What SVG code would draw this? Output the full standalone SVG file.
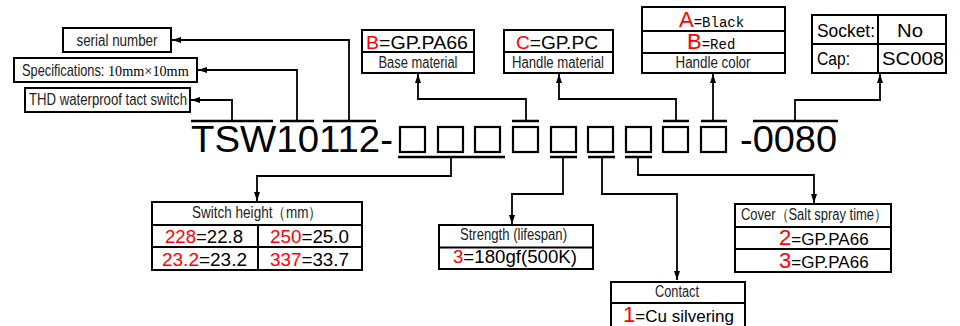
<svg xmlns="http://www.w3.org/2000/svg" width="960" height="326" viewBox="0 0 960 326">
<style>
.box{fill:#fff;stroke:#000;stroke-width:2}
.ln{fill:none;stroke:#000;stroke-width:1.8}
.bar{fill:none;stroke:#000;stroke-width:2.4}
.sq{fill:none;stroke:#000;stroke-width:2.2}
.n{font-family:"Liberation Sans Narrow","Liberation Sans",Arial,sans-serif;font-size:16px;fill:#222}
.a{font-family:"Liberation Sans",Arial,sans-serif;font-size:18px;fill:#000}
.s{font-family:"Liberation Serif","Times New Roman",serif;font-size:15px;fill:#000}
.r{fill:#f00}
.big{font-family:"Liberation Sans",Arial,sans-serif;font-size:22px;fill:#f00}
.main{font-family:"Liberation Sans",Arial,sans-serif;font-size:37.5px;fill:#000}
</style>
<defs>
<marker id="ar" markerUnits="userSpaceOnUse" markerWidth="10" markerHeight="8" refX="9" refY="3" orient="auto">
<path d="M0,0 L9,3 L0,6 z" fill="#000"/>
</marker>
</defs>

<g id="code">
<text class="main" x="191" y="152" textLength="202" lengthAdjust="spacingAndGlyphs">TSW10112-</text>
<rect class="sq" x="400" y="127" width="25" height="25"/>
<rect class="sq" x="438" y="127" width="25" height="25"/>
<rect class="sq" x="475" y="127" width="25" height="25"/>
<rect class="sq" x="513" y="127" width="25" height="25"/>
<rect class="sq" x="551" y="127" width="25" height="25"/>
<rect class="sq" x="588" y="127" width="25" height="25"/>
<rect class="sq" x="626" y="127" width="25" height="25"/>
<rect class="sq" x="663" y="127" width="25" height="25"/>
<rect class="sq" x="701" y="127" width="25" height="25"/>
<text class="main" x="740" y="152" textLength="97" lengthAdjust="spacingAndGlyphs">-0080</text>
</g>

<g id="connectors">
<path class="bar" d="M191,121 H273 M280,121 H314 M323,121 H376 M512,121 H539 M663,121 H689 M701,121 H727 M753,121 H838"/>
<path class="bar" d="M398,157 H505 M550,157 H577 M588,157 H615 M625,157 H652"/>
<path class="ln" d="M349,121 V40 H172" marker-end="url(#ar)"/>
<path class="ln" d="M297,121 V70 H198" marker-end="url(#ar)"/>
<path class="ln" d="M232,121 V100 H191" marker-end="url(#ar)"/>
<path class="ln" d="M526,121 V99 H418 V74" marker-end="url(#ar)"/>
<path class="ln" d="M676,121 V99 H559 V74" marker-end="url(#ar)"/>
<path class="ln" d="M713,121 V74" marker-end="url(#ar)"/>
<path class="ln" d="M795,121 V100 H880 V74" marker-end="url(#ar)"/>
<path class="ln" d="M451,157 V176 H257 V201" marker-end="url(#ar)"/>
<path class="ln" d="M563,157 V194 H512 V224" marker-end="url(#ar)"/>
<path class="ln" d="M602,157 V194 H677 V280" marker-end="url(#ar)"/>
<path class="ln" d="M638,157 V175 H814 V203" marker-end="url(#ar)"/>
</g>

<g id="serial">
<rect class="box" x="63" y="28" width="108" height="24"/>
<text class="n" x="117" y="46" text-anchor="middle" textLength="81" lengthAdjust="spacingAndGlyphs">serial number</text>
</g>

<g id="spec">
<rect class="box" x="14" y="58" width="183" height="24"/>
<text class="n" transform="translate(22,76) scale(0.8,1)">Specifications:</text>
<text class="s" transform="translate(108,76) scale(0.95,1)">10mm×10mm</text>
</g>

<g id="thd">
<rect class="box" x="25" y="88" width="165" height="24"/>
<text class="n" x="29" y="105" textLength="158" lengthAdjust="spacingAndGlyphs">THD waterproof tact switch</text>
</g>

<g id="base">
<rect class="box" x="362" y="30" width="112" height="43"/>
<line class="ln" x1="362" y1="52" x2="474" y2="52" style="stroke-width:2"/>
<text class="a" x="366" y="49" textLength="102" lengthAdjust="spacingAndGlyphs"><tspan class="r">B</tspan>=GP.PA66</text>
<text class="n" x="418" y="68" text-anchor="middle" textLength="79" lengthAdjust="spacingAndGlyphs">Base material</text>
</g>

<g id="handlemat">
<rect class="box" x="504" y="30" width="109" height="43"/>
<line class="ln" x1="504" y1="52" x2="613" y2="52" style="stroke-width:2"/>
<text class="a" x="516" y="49" textLength="82" lengthAdjust="spacingAndGlyphs"><tspan class="r">C</tspan>=GP.PC</text>
<text class="n" x="558" y="68" text-anchor="middle" textLength="92" lengthAdjust="spacingAndGlyphs">Handle material</text>
</g>

<g id="handlecolor">
<rect class="box" x="642" y="7" width="143" height="66"/>
<path class="ln" d="M642,31 H785 M642,53 H785" style="stroke-width:2"/>
<text x="679" y="27"><tspan class="big">A</tspan><tspan class="s" style="font-family:'Liberation Mono','Courier New',monospace;font-size:14px">=Black</tspan></text>
<text x="687" y="49"><tspan class="big">B</tspan><tspan class="s" style="font-family:'Liberation Mono','Courier New',monospace;font-size:14px">=Red</tspan></text>
<text class="n" x="713" y="68" text-anchor="middle" textLength="75" lengthAdjust="spacingAndGlyphs">Handle color</text>
</g>

<g id="socketcap">
<rect class="box" x="812" y="15" width="134" height="58"/>
<path class="ln" d="M812,44 H946 M878,15 V73" style="stroke-width:2"/>
<text class="n" x="817" y="37" style="font-size:19px;fill:#000" textLength="58" lengthAdjust="spacingAndGlyphs">Socket:</text>
<text class="a" x="910" y="37" text-anchor="middle" textLength="26" lengthAdjust="spacingAndGlyphs">No</text>
<text class="n" x="817" y="65" style="font-size:19px;fill:#000" textLength="33" lengthAdjust="spacingAndGlyphs">Cap:</text>
<text class="a" x="882" y="65" textLength="62" lengthAdjust="spacingAndGlyphs">SC008</text>
</g>

<g id="height">
<rect class="box" x="152" y="202" width="210" height="68"/>
<path class="ln" d="M152,225 H362 M152,247 H362 M258,225 V270" style="stroke-width:2"/>
<text class="n" x="192" y="218" textLength="130" lengthAdjust="spacingAndGlyphs">Switch height（mm）</text>
<text class="a" x="165" y="243" textLength="78" lengthAdjust="spacingAndGlyphs"><tspan class="r">228</tspan>=22.8</text>
<text class="a" x="270" y="243" textLength="79" lengthAdjust="spacingAndGlyphs"><tspan class="r">250</tspan>=25.0</text>
<text class="a" x="162" y="266" textLength="85" lengthAdjust="spacingAndGlyphs"><tspan class="r">23.2</tspan>=23.2</text>
<text class="a" x="270" y="266" textLength="79" lengthAdjust="spacingAndGlyphs"><tspan class="r">337</tspan>=33.7</text>
</g>

<g id="strength">
<rect class="box" x="439" y="225" width="154" height="44"/>
<line class="ln" x1="439" y1="247.5" x2="593" y2="247.5" style="stroke-width:2"/>
<text class="n" x="460" y="240" textLength="107" lengthAdjust="spacingAndGlyphs">Strength (lifespan)</text>
<text class="a" x="453" y="263" textLength="124" lengthAdjust="spacingAndGlyphs"><tspan class="r">3</tspan>=180gf(500K)</text>
</g>

<g id="contact">
<rect class="box" x="611" y="282" width="134" height="46"/>
<line class="ln" x1="611" y1="303" x2="745" y2="303" style="stroke-width:2"/>
<text class="n" x="677" y="297" text-anchor="middle" textLength="44" lengthAdjust="spacingAndGlyphs">Contact</text>
<text x="623" y="322"><tspan class="big">1</tspan><tspan class="a" style="font-size:17px">=Cu silvering</tspan></text>
</g>

<g id="cover">
<rect class="box" x="735" y="204" width="156" height="68"/>
<path class="ln" d="M735,227 H891 M735,249 H891" style="stroke-width:2"/>
<text class="n" x="741" y="220" textLength="146" lengthAdjust="spacingAndGlyphs">Cover（Salt spray time）</text>
<text x="779" y="245"><tspan class="big">2</tspan><tspan class="a" style="font-size:17px">=GP.PA66</tspan></text>
<text x="779" y="268"><tspan class="big">3</tspan><tspan class="a" style="font-size:17px">=GP.PA66</tspan></text>
</g>
</svg>
